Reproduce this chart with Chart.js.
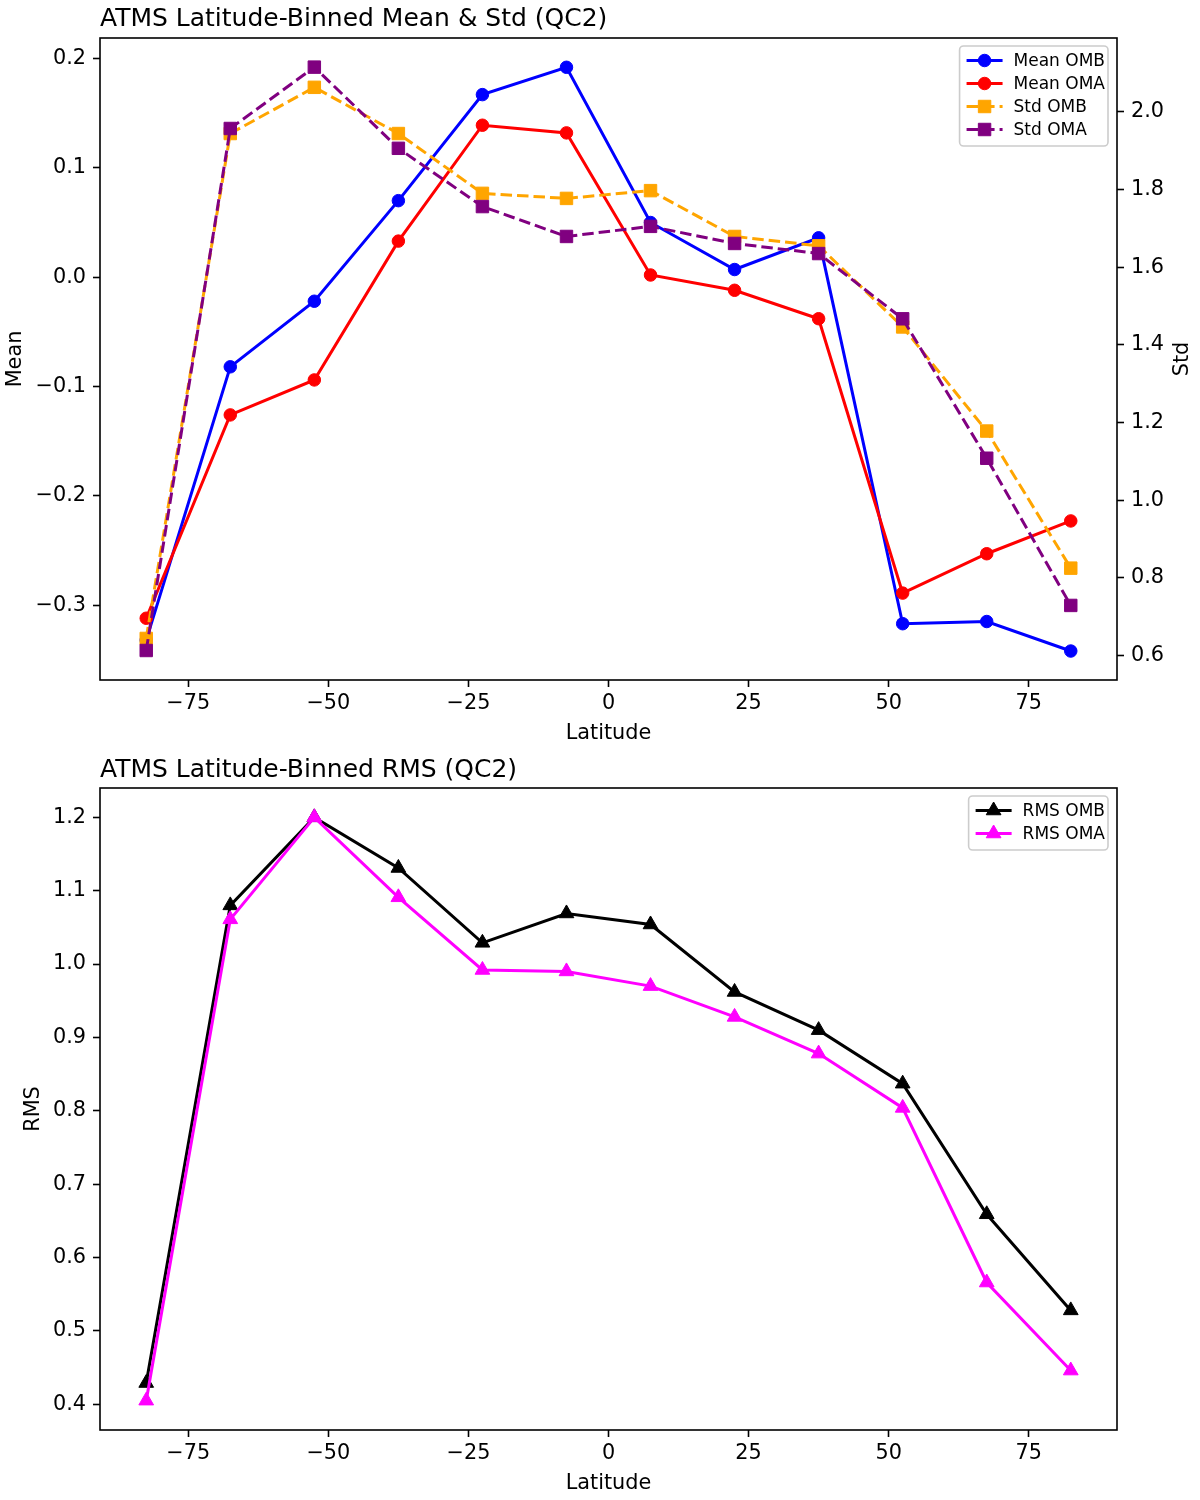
<!DOCTYPE html>
<html>
<head>
<meta charset="utf-8">
<script src="https://cdn.jsdelivr.net/npm/chart.js@4.4.0/dist/chart.umd.min.js"></script>
<style>
    body { margin: 0; background: #fff; }
    .panel { position: absolute; left: 0; width: 1200px; height: 750px; }
</style>
</head>
<body>
<div class="panel" style="top:1px"><canvas id="stats-chart" width="1200" height="750"></canvas></div>
<div class="panel" style="top:752px"><canvas id="rms-chart" width="1200" height="748"></canvas></div>
<script>
// Latitude bin centres
const latitudes = [-82.5, -67.5, -52.5, -37.5, -22.5, -7.5, 7.5, 22.5, 37.5, 52.5, 67.5, 82.5];

// Top panel series
const meanOmb = [-0.332, -0.082, -0.022, 0.070, 0.167, 0.192, 0.050, 0.007, 0.036, -0.317, -0.315, -0.342];
const meanOma = [-0.312, -0.126, -0.094, 0.033, 0.139, 0.132, 0.002, -0.012, -0.038, -0.289, -0.253, -0.223];
const stdOmb = [0.644, 1.944, 2.063, 1.944, 1.790, 1.777, 1.797, 1.679, 1.655, 1.446, 1.178, 0.825];
const stdOma = [0.613, 1.957, 2.115, 1.906, 1.756, 1.679, 1.705, 1.661, 1.635, 1.467, 1.108, 0.729];

// Bottom panel series
const rmsOmb = [0.429, 1.080, 1.200, 1.131, 1.029, 1.069, 1.054, 0.962, 0.910, 0.837, 0.659, 0.528];
const rmsOma = [0.405, 1.061, 1.200, 1.091, 0.992, 0.990, 0.970, 0.928, 0.878, 0.804, 0.566, 0.446];

// Tick labels
const latTicks = [-75, -50, -25, 0, 25, 50, 75];
const meanTicks = [-0.3, -0.2, -0.1, 0.0, 0.1, 0.2];
const stdTicks = [0.6, 0.8, 1.0, 1.2, 1.4, 1.6, 1.8, 2.0];
const rmsTicks = [0.4, 0.5, 0.6, 0.7, 0.8, 0.9, 1.0, 1.1, 1.2];

const FONT = 'DejaVu Sans';
const DASH = [11.5, 5];

// helpers
const toPoints = vals => vals.map((v, i) => ({ x: latitudes[i], y: v }));
const minus = s => s.replace('-', '\u2212');
const fmt1 = v => minus(Number(v).toFixed(1));
const fmt0 = v => minus(String(Math.round(v)));

function series(label, vals, color, style, radius, dashed, axis, order) {
    return {
        label: label,
        data: toPoints(vals),
        borderColor: color,
        backgroundColor: color,
        borderWidth: 3,
        borderDash: dashed ? DASH : [],
        pointStyle: style,
        pointRadius: radius,
        pointHoverRadius: radius,
        pointBorderWidth: 1,
        pointBorderColor: color,
        pointBackgroundColor: color,
        yAxisID: axis,
        order: order,
        tension: 0
    };
}

function scaleOpts(min, max, ticks, fmt, size, pad) {
    return {
        type: 'linear',
        min: min,
        max: max,
        afterBuildTicks: s => { s.ticks = ticks.map(v => ({ value: v })); },
        afterFit: s => { if (s.isHorizontal()) s.height = size; else s.width = size; },
        ticks: {
            font: { family: FONT, size: 20.8 },
            color: '#000',
            padding: pad,
            autoSkip: false,
            maxRotation: 0,
            callback: fmt
        },
        grid: { drawOnChartArea: false, drawTicks: true, tickLength: 7, tickWidth: 1.6, tickColor: '#000' },
        border: { display: false }
    };
}

// Frame, titles, axis labels and legend (matplotlib style)
const decorPlugin = {
    id: 'decor',
    afterDraw(chart, args, opts) {
        const ctx = chart.ctx;
        const a = chart.chartArea;
        ctx.save();

        // frame
        ctx.strokeStyle = '#000';
        ctx.lineWidth = 1.6;
        ctx.strokeRect(a.left, a.top, a.right - a.left, a.bottom - a.top);

        // title
        ctx.fillStyle = '#000';
        ctx.font = `25px "${FONT}"`;
        ctx.textAlign = 'left';
        ctx.textBaseline = 'alphabetic';
        ctx.fillText(opts.title, a.left, opts.titleY);

        // axis labels
        ctx.font = `20.8px "${FONT}"`;
        ctx.textAlign = 'center';
        ctx.fillText(opts.xLabel, (a.left + a.right) / 2, a.bottom + 59);
        ctx.textBaseline = 'middle';
        const midY = (a.top + a.bottom) / 2;
        [[opts.leftLabel, opts.leftX], [opts.rightLabel, opts.rightX]].forEach(([txt, x]) => {
            if (!txt) return;
            ctx.save();
            ctx.translate(x, midY);
            ctx.rotate(-Math.PI / 2);
            ctx.fillText(txt, 0, 0);
            ctx.restore();
        });

        // legend
        const fs = 17;
        ctx.font = `${fs}px "${FONT}"`;
        const items = chart.data.datasets.slice().sort((p, q) => p.legendIdx - q.legendIdx);
        const textW = Math.max(...items.map(d => ctx.measureText(d.label).width));
        const handle = 36, gap = 11, padL = 7, padR = 3, rowH = 23;
        const w = padL + handle + gap + textW + padR;
        const h = 14 + rowH * items.length - 6;
        const bx = a.right - 9 - w;
        const by = a.top + 8;
        ctx.beginPath();
        ctx.roundRect(bx, by, w, h, 4);
        ctx.fillStyle = 'rgba(255,255,255,0.8)';
        ctx.fill();
        ctx.strokeStyle = '#cccccc';
        ctx.lineWidth = 1.6;
        ctx.stroke();

        items.forEach((d, i) => {
            const y = by + 14.5 + i * rowH;
            const x0 = bx + padL;
            ctx.setLineDash(d.borderDash);
            ctx.strokeStyle = d.borderColor;
            ctx.lineWidth = 3;
            ctx.beginPath();
            ctx.moveTo(x0, y);
            ctx.lineTo(x0 + handle, y);
            ctx.stroke();
            ctx.setLineDash([]);
            ctx.fillStyle = d.borderColor;
            ctx.lineWidth = 1;
            Chart.helpers.drawPoint(ctx, { pointStyle: d.pointStyle, radius: d.pointRadius, rotation: 0, borderWidth: 1 }, x0 + handle / 2, y);
            ctx.fillStyle = '#000';
            ctx.textAlign = 'left';
            ctx.textBaseline = 'middle';
            ctx.fillText(d.label, x0 + handle + gap, y + 1);
        });
        ctx.restore();
    }
};

// Top panel: mean & std
const statsDatasets = [
    series('Mean OMB', meanOmb, '#0000ff', 'circle', 6.25, false, 'y', 3),
    series('Mean OMA', meanOma, '#ff0000', 'circle', 6.25, false, 'y', 2),
    series('Std OMB', stdOmb, '#ffa500', 'rect', 8.8, true, 'y1', 1),
    series('Std OMA', stdOma, '#800080', 'rect', 8.8, true, 'y1', 0)
];
statsDatasets.forEach((d, i) => { d.legendIdx = i; });

new Chart(document.getElementById('stats-chart'), {
    type: 'line',
    data: { datasets: statsDatasets },
    options: {
        responsive: false,
        animation: false,
        devicePixelRatio: 1,
        events: [],
        layout: { padding: { top: 37, left: 0, right: 0, bottom: 0 } },
        plugins: {
            legend: { display: false },
            tooltip: { enabled: false },
            decor: {
                title: 'ATMS Latitude-Binned Mean & Std (QC2)',
                titleY: 25,
                xLabel: 'Latitude',
                leftLabel: 'Mean',
                leftX: 16,
                rightLabel: 'Std',
                rightX: 1183
            }
        },
        scales: {
            x: scaleOpts(-90.75, 90.75, latTicks, fmt0, 71, 4),
            y: Object.assign(scaleOpts(-0.3685, 0.2188, meanTicks, fmt1, 100, 7), { position: 'left' }),
            y1: Object.assign(scaleOpts(0.537, 2.19, stdTicks, fmt1, 83, 7), { position: 'right' })
        }
    },
    plugins: [decorPlugin]
});

// Bottom panel: RMS
const rmsDatasets = [
    series('RMS OMB', rmsOmb, '#000000', 'triangle', 8.5, false, 'y', 1),
    series('RMS OMA', rmsOma, '#ff00ff', 'triangle', 8.5, false, 'y', 0)
];
rmsDatasets.forEach((d, i) => { d.legendIdx = i; });

new Chart(document.getElementById('rms-chart'), {
    type: 'line',
    data: { datasets: rmsDatasets },
    options: {
        responsive: false,
        animation: false,
        devicePixelRatio: 1,
        events: [],
        layout: { padding: { top: 36, left: 0, right: 83, bottom: 0 } },
        plugins: {
            legend: { display: false },
            tooltip: { enabled: false },
            decor: {
                title: 'ATMS Latitude-Binned RMS (QC2)',
                titleY: 25,
                xLabel: 'Latitude',
                leftLabel: 'RMS',
                leftX: 34
            }
        },
        scales: {
            x: scaleOpts(-90.75, 90.75, latTicks, fmt0, 70, 4),
            y: Object.assign(scaleOpts(0.365, 1.240, rmsTicks, fmt1, 100, 7), { position: 'left' })
        }
    },
    plugins: [decorPlugin]
});
</script>
</body>
</html>
